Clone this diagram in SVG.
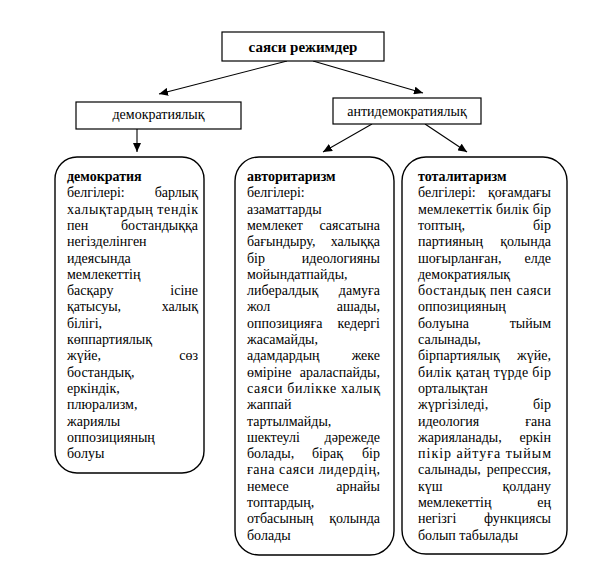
<svg xmlns="http://www.w3.org/2000/svg" width="598" height="579" viewBox="0 0 598 579">
<style>
.t{font-family:"Liberation Serif","Times New Roman",serif;font-size:14px;fill:#000}
.b{font-weight:bold}
.e{text-anchor:end}
.m{text-anchor:middle}
.box{fill:#fff;stroke:#000;stroke-width:1.2}
.rbox{fill:#fff;stroke:#000;stroke-width:1.4}
.c{stroke:#000;stroke-width:1.1;fill:none;marker-end:url(#ah)}
</style>
<defs>
<marker id="ah" markerUnits="userSpaceOnUse" markerWidth="9" markerHeight="8" refX="9" refY="4" orient="auto">
<path d="M0,0 L9,4 L0,8 z" fill="#000"/>
</marker>
</defs>
<rect width="598" height="579" fill="#fff"/>
<g id="connectors">
<line class="c" x1="287" y1="61" x2="159" y2="94"/>
<line class="c" x1="313" y1="61" x2="423" y2="93"/>
<line class="c" x1="137" y1="129" x2="137" y2="152"/>
<line class="c" x1="372" y1="124" x2="323" y2="152"/>
<line class="c" x1="425" y1="124" x2="467" y2="152"/>
</g>
<g id="root">
<rect class="box" x="222" y="32" width="162" height="29"/>
<text class="t b m" x="303" y="52" style="font-size:15px">саяси режимдер</text>
</g>
<g id="demokratiyalyk">
<rect class="box" x="76" y="102" width="165" height="27"/>
<text class="t m" x="158.5" y="119">демократиялық</text>
</g>
<g id="antidemokratiyalyk">
<rect class="box" x="333" y="98" width="148" height="26"/>
<text class="t m" x="407" y="116">антидемократиялық</text>
</g>
<g id="demokratiya">
<rect class="rbox" x="55" y="157" width="149" height="316" rx="22"/>
<text class="t b" x="67" y="181">демократия</text>
<text class="t" x="67" y="197.3">белгілері:</text><text class="t e" x="198" y="197.3">барлық</text>
<text class="t" x="67" y="213.6" textLength="131" lengthAdjust="spacing">халықтардың тендік</text>
<text class="t" x="67" y="229.9">пен</text><text class="t e" x="198" y="229.9">бостандыққа</text>
<text class="t" x="67" y="246.2">негізделінген</text>
<text class="t" x="67" y="262.5">идеясында</text>
<text class="t" x="67" y="278.8">мемлекеттің</text>
<text class="t" x="67" y="295.1">басқару</text><text class="t e" x="198" y="295.1">ісіне</text>
<text class="t" x="67" y="311.4">қатысуы,</text><text class="t e" x="198" y="311.4">халық</text>
<text class="t" x="67" y="327.7">білігі,</text>
<text class="t" x="67" y="344">көппартиялық</text>
<text class="t" x="67" y="360.3">жүйе,</text><text class="t e" x="198" y="360.3">сөз</text>
<text class="t" x="67" y="376.6">бостандық,</text>
<text class="t" x="67" y="392.9">еркіндік,</text>
<text class="t" x="67" y="409.2">плюрализм,</text>
<text class="t" x="67" y="425.5">жариялы</text>
<text class="t" x="67" y="441.8">оппозицияның</text>
<text class="t" x="67" y="458.1">болуы</text>
</g>
<g id="avtoritarizm">
<rect class="rbox" x="235" y="157" width="159" height="398" rx="24"/>
<text class="t b" x="247" y="181">авторитаризм</text>
<text class="t" x="247" y="197.3">белгілері:</text>
<text class="t" x="247" y="213.6">азаматтарды</text>
<text class="t" x="247" y="229.9">мемлекет</text><text class="t e" x="380" y="229.9">саясатына</text>
<text class="t" x="247" y="246.2">бағындыру,</text><text class="t e" x="380" y="246.2">халыққа</text>
<text class="t" x="247" y="262.5">бір</text><text class="t e" x="380" y="262.5">идеологияны</text>
<text class="t" x="247" y="278.8">мойындатпайды,</text>
<text class="t" x="247" y="295.1">либералдық</text><text class="t e" x="380" y="295.1">дамуға</text>
<text class="t" x="247" y="311.4">жол</text><text class="t e" x="380" y="311.4">ашады,</text>
<text class="t" x="247" y="327.7">оппозицияға</text><text class="t e" x="380" y="327.7">кедергі</text>
<text class="t" x="247" y="344">жасамайды,</text>
<text class="t" x="247" y="360.3">адамдардың</text><text class="t e" x="380" y="360.3">жеке</text>
<text class="t" x="247" y="376.6">өміріне</text><text class="t e" x="380" y="376.6">араласпайды,</text>
<text class="t" x="247" y="392.9" textLength="133" lengthAdjust="spacing">саяси билікке халық</text>
<text class="t" x="247" y="409.2">жаппай</text>
<text class="t" x="247" y="425.5">тартылмайды,</text>
<text class="t" x="247" y="441.8">шектеулі</text><text class="t e" x="380" y="441.8">дәрежеде</text>
<text class="t" x="247" y="458.1">болады,</text><text class="t" x="312" y="458.1">бірақ</text><text class="t e" x="380" y="458.1">бір</text>
<text class="t" x="247" y="474.4" textLength="133" lengthAdjust="spacing">ғана саяси лидердің,</text>
<text class="t" x="247" y="490.7">немесе</text><text class="t e" x="380" y="490.7">арнайы</text>
<text class="t" x="247" y="507">топтардың,</text>
<text class="t" x="247" y="523.3">отбасының</text><text class="t e" x="380" y="523.3">қолында</text>
<text class="t" x="247" y="539.6">болады</text>
</g>
<g id="totalitarizm">
<rect class="rbox" x="402" y="157" width="165" height="397" rx="24"/>
<text class="t b" x="418" y="181">тоталитаризм</text>
<text class="t" x="418" y="197.3">белгілері:</text><text class="t e" x="551" y="197.3">қоғамдағы</text>
<text class="t" x="418" y="213.6" textLength="133" lengthAdjust="spacing">мемлекеттік билік бір</text>
<text class="t" x="418" y="229.9">топтың,</text><text class="t e" x="551" y="229.9">бір</text>
<text class="t" x="418" y="246.2">партияның</text><text class="t e" x="551" y="246.2">қолында</text>
<text class="t" x="418" y="262.5">шоғырланған,</text><text class="t e" x="551" y="262.5">елде</text>
<text class="t" x="418" y="278.8">демократиялық</text>
<text class="t" x="418" y="295.1" textLength="133" lengthAdjust="spacing">бостандық пен саяси</text>
<text class="t" x="418" y="311.4">оппозицияның</text>
<text class="t" x="418" y="327.7">болуына</text><text class="t e" x="551" y="327.7">тыйым</text>
<text class="t" x="418" y="344">салынады,</text>
<text class="t" x="418" y="360.3">бірпартиялық</text><text class="t e" x="551" y="360.3">жүйе,</text>
<text class="t" x="418" y="376.6" textLength="133" lengthAdjust="spacing">билік қатаң түрде бір</text>
<text class="t" x="418" y="392.9">орталықтан</text>
<text class="t" x="418" y="409.2">жүргізіледі,</text><text class="t e" x="551" y="409.2">бір</text>
<text class="t" x="418" y="425.5">идеология</text><text class="t e" x="551" y="425.5">ғана</text>
<text class="t" x="418" y="441.8">жарияланады,</text><text class="t e" x="551" y="441.8">еркін</text>
<text class="t" x="418" y="458.1" textLength="133" lengthAdjust="spacing">пікір айтуға тыйым</text>
<text class="t" x="418" y="474.4">салынады,</text><text class="t e" x="551" y="474.4">репрессия,</text>
<text class="t" x="418" y="490.7">күш</text><text class="t e" x="551" y="490.7">қолдану</text>
<text class="t" x="418" y="507">мемлекеттің</text><text class="t e" x="551" y="507">ең</text>
<text class="t" x="418" y="523.3">негізгі</text><text class="t e" x="551" y="523.3">функциясы</text>
<text class="t" x="418" y="539.6">болып табылады</text>
</g>
</svg>
